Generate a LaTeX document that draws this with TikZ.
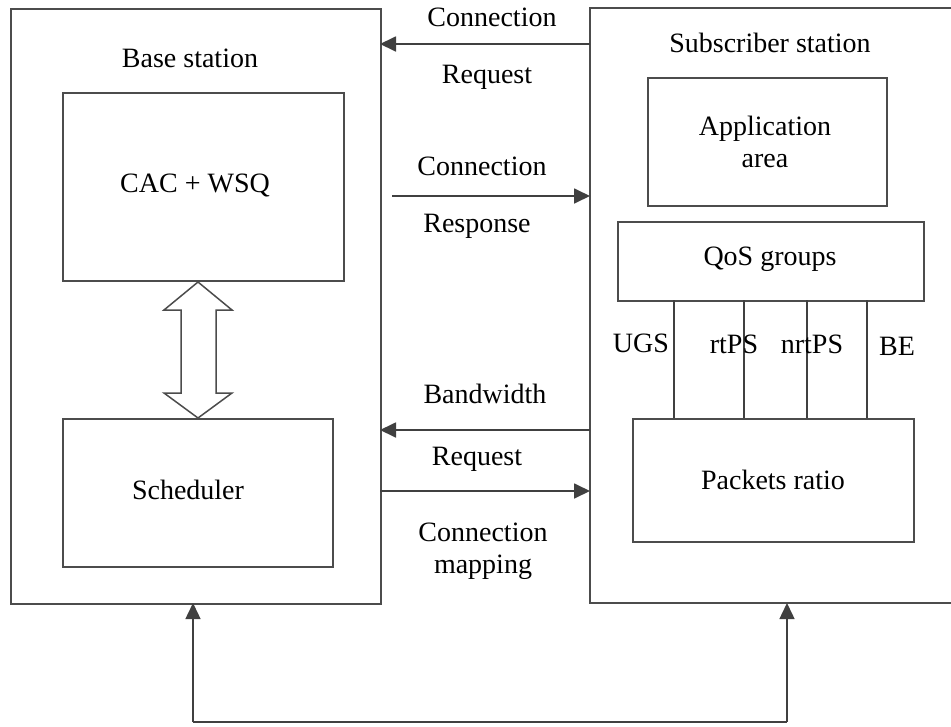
\documentclass[tikz,border=0pt]{standalone}
\usepackage{fontspec}
\setmainfont{Liberation Serif}
\usetikzlibrary{arrows.meta}
\begin{document}
\begin{tikzpicture}[x=1pt,y=-1pt,
  box/.style={draw=black!70, line width=1.8pt},
  lbl/.style={font=\fontsize{28}{32}\selectfont, align=center, inner sep=0pt},
  conn/.style={draw=black!75, line width=1.8pt, -{Triangle[length=16pt,width=15pt]}},
  plain/.style={draw=black!75, line width=1.5pt}]
\useasboundingbox (0,0) rectangle (951,726);
% Base station
\node[box, minimum width=370pt, minimum height=595pt, anchor=north west, inner sep=0pt] (bs) at (10,8) {};
\node[lbl] (bslbl) at (190,58) {Base station};
\node[box, minimum width=281pt, minimum height=188pt, anchor=north west, inner sep=0pt] (cac) at (62,92) {};
\node[lbl] (cactxt) at (195,185) {CAC + WSQ};
\node[box, minimum width=270pt, minimum height=148pt, anchor=north west, inner sep=0pt] (sch) at (62,418) {};
\node[lbl] (schtxt) at (188,490) {Scheduler};
% hollow double arrow
\draw[draw=black!70, line width=1.5pt, fill=white]
  (198,282) -- (232,310) -- (216,310) -- (216,393) -- (232,393) -- (198,418)
  -- (164,393) -- (181,393) -- (181,310) -- (164,310) -- cycle;
% Subscriber station (right side open)
\coordinate (ssTR) at (951,8);
\coordinate (ssBR) at (951,603);
\coordinate (ssTL) at (590,8);
\coordinate (ssBL) at (590,603);
\draw[box] (ssTR) -- (ssTL) -- (ssBL) -- (ssBR);
\node[lbl] (sslbl) at (770,43) {Subscriber station};
\node[box, minimum width=239pt, minimum height=128pt, anchor=north west, inner sep=0pt] (app) at (647,77) {};
\node[lbl] (apptxt) at (765,142) {Application\\area};
\node[box, minimum width=306pt, minimum height=79pt, anchor=north west, inner sep=0pt] (qos) at (617,221) {};
\node[lbl] (qostxt) at (770,259) {QoS groups};
\node[box, minimum width=281pt, minimum height=123pt, anchor=north west, inner sep=0pt] (pkt) at (632,418) {};
\node[lbl] (pkttxt) at (773,480) {Packets ratio};
% vertical service lines
\foreach \xx/\nm in {674/a,744/b,807/c,867/d}{
  \coordinate (t\nm) at (\xx,300);
  \coordinate (b\nm) at (\xx,418);
  \draw[plain] (t\nm) -- (b\nm);
}
\node[lbl] (ugs) at (641,343) {UGS};
\node[lbl] (rtps) at (734,344) {rtPS};
\node[lbl] (nrtps) at (812,344) {nrtPS};
\node[lbl] (be) at (897,346) {BE};
% message arrows
\coordinate (r1) at (590,44); \coordinate (l1) at (380,44);
\draw[conn] (r1) -- (l1);
\node[lbl] (c1a) at (492,17) {Connection};
\node[lbl] (c1b) at (487,77) {Request};
\coordinate (l2) at (392,196); \coordinate (r2) at (590,196);
\draw[conn] (l2) -- (r2);
\node[lbl] (c2a) at (482,166) {Connection};
\node[lbl] (c2b) at (477,226) {Response};
\coordinate (r3) at (590,430); \coordinate (l3) at (380,430);
\draw[conn] (r3) -- (l3);
\node[lbl] (c3a) at (485,394) {Bandwidth};
\node[lbl] (c3b) at (477,459) {Request};
\coordinate (l4) at (380,491); \coordinate (r4) at (590,491);
\draw[conn] (l4) -- (r4);
\node[lbl] (c4) at (483,551) {Connection\\mapping};
% bottom loop
\coordinate (bl) at (193,722); \coordinate (br) at (787,722);
\coordinate (bsb) at (193,603); \coordinate (ssb) at (787,603);
\draw[plain] (bl) -- (br);
\draw[conn, line width=1.5pt] (bl) -- (bsb);
\draw[conn, line width=1.5pt] (br) -- (ssb);
\end{tikzpicture}
\end{document}
